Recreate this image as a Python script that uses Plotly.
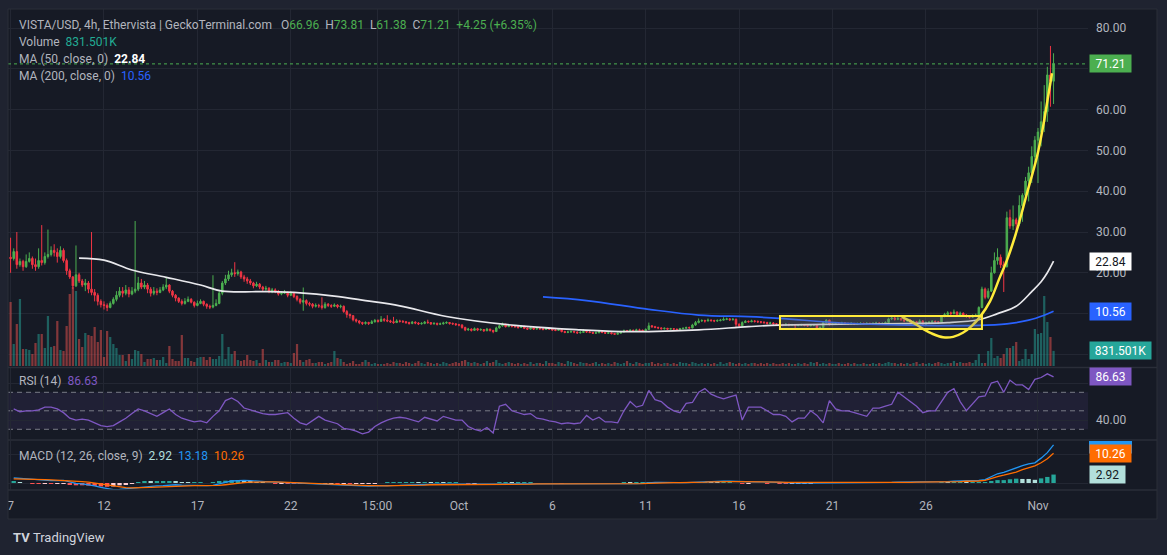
import pandas as pd
import plotly.graph_objects as go

# ---------------- data ----------------
start_time = "2024-09-07 00:00"
first_open = 23.8

close = [
 23.5, 25.2, 22.0, 22.8, 21.5, 22.8,  23.5, 22.0, 21.5, 23.0, 22.5, 24.0,
 24.5, 25.5, 25.0, 24.0, 25.5, 23.0,  20.5, 19.0, 16.8, 19.5, 18.0, 17.0,
 17.5, 16.0, 15.2, 14.5, 13.0, 12.2,  12.0, 11.5, 12.5, 13.5, 14.5, 15.5,
 15.0, 15.8, 14.8, 15.5, 16.0, 17.5,  16.5, 17.0, 16.0, 15.0, 15.5, 15.2,
 15.8, 16.5, 17.0, 15.5, 14.5, 13.8,  13.0, 12.5, 13.0, 13.5, 12.8, 12.0,
 12.5, 13.0, 12.3, 11.8, 11.6, 12.0,  12.5, 15.0, 17.5, 18.5, 19.5, 20.0,
 19.8, 20.2, 19.0, 18.5, 18.0, 17.5,  16.8, 17.2, 16.5, 16.0, 16.2, 15.5,
 15.8, 15.5, 14.8, 15.0, 15.2, 14.5,  15.0, 14.2, 13.5, 12.8, 13.2, 12.5,
 12.3, 11.8, 12.0, 11.9, 11.5, 12.3,  12.0, 11.8, 12.1, 11.7, 11.8, 10.5,
 9.8, 9.5, 8.5, 8.2, 7.8, 7.6,        7.8, 7.6, 8.0, 8.3, 8.1, 8.6,
 8.4, 8.2, 8.0, 7.8, 8.2, 8.1,        8.0, 7.8, 7.6, 7.9, 7.7, 7.5,
 7.6, 7.9, 7.8, 7.5, 7.6, 7.4,        7.5, 7.7, 7.8, 7.6, 7.5, 7.3,
 7.2, 6.6, 6.0, 6.2, 5.9, 6.3,        6.0, 6.1, 5.8, 6.2, 5.9, 5.6,
 6.5, 7.0, 7.4, 6.8, 7.1, 6.9,        6.8, 6.6, 6.9, 6.4, 6.2, 6.5,
 6.2, 6.4, 6.3, 6.1, 6.4, 6.2,        6.0, 5.9, 6.1, 5.6, 5.4, 5.5,
 5.6, 5.5, 5.3, 5.4, 5.6, 5.5,        5.4, 5.2, 5.3, 5.6, 5.4, 5.2,
 5.3, 5.1, 4.95, 5.2, 5.5, 5.8,       5.7, 5.9, 5.8, 6.0, 5.9, 5.8,
 6.1, 7.0, 6.8, 6.6, 6.5, 6.3,        6.4, 6.2, 6.3, 6.2, 6.1, 6.3,
 6.4, 6.6, 6.5, 7.2, 7.8, 8.2,        8.3, 8.2, 8.4, 8.3, 8.2, 8.3,
 8.4, 8.6, 8.7, 8.5, 8.6, 7.4,        7.0, 7.8, 8.1, 8.0, 8.2, 8.1,
 8.0, 7.9, 7.8, 7.6, 7.7, 7.5,        7.4, 7.3, 7.2, 7.4, 7.2, 7.3,
 7.1, 7.2, 7.3, 7.1, 7.0, 7.2,        7.2, 6.4, 6.6, 7.8, 8.4, 7.3,
 7.5, 7.6, 7.5, 7.7, 7.6, 7.5,        7.6, 7.4, 7.5, 7.6, 7.5, 7.6,
 7.5, 7.6, 7.7, 7.5, 7.6, 7.8,        8.7, 8.9, 8.6, 8.8, 8.5, 8.2,
 8.4, 7.9, 8.0, 7.6, 8.2, 7.4,        7.8, 7.9, 8.1, 8.0, 7.9, 9.3,
 9.8, 10.2, 10.0, 10.4, 9.7, 10.1,    9.6, 9.4, 9.1, 9.5, 9.6, 11.5,
 16.0, 14.0, 15.5, 20.0, 23.0, 23.8,  22.0, 21.5, 33.5, 31.5, 33.0, 32.0,
 36.5, 39.0, 42.5, 44.5, 48.5, 52.5,  54.5, 57.0, 59.5, 68.5, 66.96, 71.21,
]

high = [
 28.6, 26.0, 30.0, 23.5, 23.2, 24.5,  25.0, 24.0, 23.5, 26.0, 31.7, 25.0,
 30.6, 26.5, 27.0, 26.0, 26.5, 26.0,  23.5, 21.0, 19.2, 26.7, 20.0, 18.5,
 18.5, 18.0, 30.0, 16.0, 15.0, 13.5,  13.0, 12.5, 13.0, 14.0, 15.5, 16.5,
 16.5, 17.0, 16.5, 16.5, 32.7, 19.0,  18.5, 18.0, 17.5, 16.5, 16.5, 16.2,
 16.5, 17.2, 19.0, 17.2, 15.8, 14.8,  14.0, 13.5, 13.8, 14.2, 13.8, 13.0,
 13.2, 13.5, 13.2, 12.5, 12.2, 19.4,  13.5, 15.5, 18.0, 19.5, 20.5, 21.0,
 22.6, 20.8, 20.5, 19.5, 19.0, 18.5,  17.8, 17.8, 17.5, 16.8, 16.8, 16.5,
 16.3, 16.2, 15.8, 15.5, 15.8, 15.4,  15.5, 15.2, 14.5, 13.8, 16.4, 13.5,
 12.9, 12.6, 12.5, 12.4, 14.0, 12.8,  12.6, 12.3, 12.5, 12.3, 12.2, 12.0,
 10.9, 10.0, 9.6, 8.8, 8.4, 8.0,      8.1, 8.0, 8.4, 8.7, 8.6, 9.4,
 8.9, 9.6, 8.5, 9.2, 8.6, 8.5,        8.4, 8.2, 8.0, 8.2, 8.1, 7.9,
 7.9, 8.2, 8.5, 7.9, 7.9, 7.8,        7.8, 8.0, 8.1, 7.9, 7.8, 7.6,
 7.5, 7.4, 6.8, 6.5, 6.4, 6.6,        6.5, 6.4, 6.2, 6.5, 6.3, 6.0,
 6.8, 7.3, 7.8, 7.5, 7.4, 7.2,        7.1, 7.0, 7.2, 7.0, 6.6, 6.8,
 6.6, 6.7, 6.6, 6.4, 6.7, 6.5,        6.3, 6.2, 6.4, 6.2, 5.8, 5.8,
 5.9, 5.8, 5.6, 5.7, 6.2, 5.8,        5.7, 5.5, 5.6, 6.0, 5.8, 5.5,
 5.5, 5.4, 5.2, 5.4, 5.8, 6.1,        6.0, 6.2, 6.1, 6.3, 6.3, 6.1,
 6.4, 7.8, 7.2, 7.0, 6.8, 6.6,        6.6, 6.5, 6.5, 6.4, 6.3, 6.5,
 6.6, 6.8, 6.8, 7.5, 8.2, 8.8,        8.6, 8.5, 8.8, 8.6, 8.5, 8.6,
 8.7, 9.1, 9.0, 8.9, 8.9, 8.8,        7.6, 8.1, 8.4, 8.3, 8.5, 8.4,
 8.3, 8.2, 8.1, 8.0, 8.0, 7.9,        7.7, 7.6, 7.5, 7.6, 7.5, 7.5,
 7.4, 7.4, 7.5, 7.4, 7.3, 7.4,        7.4, 7.3, 6.9, 8.1, 8.6, 8.5,
 7.8, 7.9, 7.8, 8.0, 7.9, 7.8,        7.9, 7.7, 7.8, 7.9, 7.8, 7.9,
 7.8, 7.9, 8.0, 7.9, 7.9, 8.1,        9.0, 9.4, 9.2, 9.3, 9.0, 8.8,
 8.7, 8.6, 8.3, 8.2, 8.6, 8.4,        8.1, 8.2, 8.4, 8.3, 8.2, 9.6,
 10.2, 10.6, 10.5, 11.0, 10.5, 10.5,  10.3, 9.9, 9.6, 9.8, 10.0, 11.8,
 16.6, 16.4, 16.2, 21.5, 25.0, 26.0,  24.5, 22.8, 35.0, 35.5, 36.5, 33.5,
 39.0, 39.5, 43.5, 46.0, 51.0, 53.5,  55.5, 62.0, 66.0, 70.5, 75.6, 73.81,
]

low = [
 20.0, 23.0, 21.0, 21.5, 20.5, 21.2,  22.5, 21.0, 20.5, 21.0, 21.8, 22.0,
 23.5, 24.0, 24.0, 22.5, 23.5, 22.5,  19.5, 18.5, 16.0, 16.5, 17.5, 16.5,
 15.5, 15.0, 14.5, 13.0, 12.0, 11.5,  11.0, 10.6, 11.3, 12.2, 13.0, 14.0,
 14.0, 14.5, 14.0, 14.5, 15.0, 15.5,  16.0, 16.0, 15.0, 14.2, 14.5, 14.5,
 15.0, 15.5, 16.0, 15.0, 14.0, 13.0,  12.6, 12.0, 12.2, 12.8, 12.5, 11.5,
 11.8, 12.3, 11.8, 11.2, 11.1, 11.3,  11.8, 12.3, 14.5, 17.0, 18.0, 19.0,
 19.0, 19.3, 18.5, 17.8, 17.3, 17.0,  16.2, 16.5, 16.0, 15.3, 15.6, 15.0,
 15.0, 15.0, 14.4, 14.5, 14.8, 14.0,  14.3, 13.8, 13.0, 12.3, 10.7, 12.0,
 11.8, 11.3, 11.5, 11.4, 11.0, 11.2,  11.6, 11.4, 11.6, 11.3, 11.3, 10.2,
 9.0, 8.8, 8.1, 7.8, 7.4, 7.2,        7.3, 7.2, 7.5, 7.8, 7.8, 8.0,
 8.0, 7.9, 7.7, 7.5, 7.7, 7.8,        7.7, 7.5, 7.3, 7.4, 7.4, 7.2,
 7.3, 7.4, 7.5, 7.2, 7.3, 7.1,        7.2, 7.3, 7.5, 7.3, 7.2, 7.0,
 6.9, 6.3, 5.7, 5.8, 5.6, 5.8,        5.7, 5.8, 5.5, 5.7, 5.6, 5.2,
 5.5, 6.3, 6.8, 6.6, 6.7, 6.6,        6.5, 6.3, 6.5, 6.2, 6.0, 6.1,
 6.0, 6.1, 6.0, 5.9, 6.0, 6.0,        5.8, 5.7, 5.8, 5.4, 5.2, 5.2,
 5.3, 5.2, 5.0, 5.1, 5.3, 5.3,        5.2, 5.0, 5.1, 5.2, 5.2, 5.0,
 5.0, 4.9, 4.8, 4.9, 5.1, 5.4,        5.5, 5.6, 5.6, 5.8, 5.7, 5.6,
 5.6, 6.0, 6.5, 6.4, 6.2, 6.1,        6.1, 6.0, 6.1, 6.0, 5.9, 6.0,
 6.2, 6.3, 6.3, 6.4, 7.0, 7.6,        8.0, 7.8, 8.1, 8.0, 7.9, 8.0,
 8.1, 8.3, 8.4, 8.2, 8.3, 6.7,        6.6, 6.9, 7.7, 7.8, 7.9, 7.8,
 7.7, 7.6, 7.5, 7.3, 7.4, 7.2,        7.1, 7.0, 6.9, 7.0, 6.9, 7.0,
 6.4, 6.9, 7.0, 6.9, 6.8, 6.9,        6.9, 6.2, 6.2, 6.5, 7.6, 7.1,
 7.2, 7.3, 7.3, 7.4, 7.3, 7.3,        7.3, 7.2, 7.2, 7.3, 7.3, 7.3,
 7.2, 7.3, 7.4, 7.2, 7.3, 7.5,        7.7, 8.4, 8.3, 8.4, 8.2, 7.9,
 8.0, 7.6, 7.7, 7.3, 7.5, 7.0,        7.3, 7.6, 7.8, 7.7, 7.6, 7.8,
 9.1, 9.6, 9.6, 9.8, 9.4, 9.5,        9.3, 9.0, 8.8, 9.0, 9.3, 9.4,
 11.3, 13.5, 13.6, 15.3, 19.8, 22.0,  21.2, 15.3, 21.3, 30.8, 30.5, 29.5,
 31.5, 32.5, 38.0, 37.5, 42.0, 47.0,  42.0, 51.0, 54.5, 57.0, 60.7, 61.38,
]

volume_k = [
 3520, 1210, 2310, 3685, 935, 935, 880, 660, 1265, 1760,
 1760, 990, 2750, 1045, 1100, 2475, 880, 825, 2200, 3960,
 4345, 4125, 1485, 1045, 1815, 1705, 1650, 2145, 1320, 1980,
 495, 1925, 1595, 1210, 990, 605, 605, 275, 660, 385,
 880, 825, 660, 220, 385, 385, 440, 330, 330, 495,
 165, 1100, 385, 275, 275, 1705, 440, 440, 275, 220,
 440, 495, 495, 330, 495, 385, 385, 550, 1760, 385,
 1045, 660, 825, 330, 275, 330, 605, 330, 275, 330,
 165, 935, 330, 220, 220, 330, 330, 165, 220, 220,
 165, 715, 1210, 330, 220, 330, 385, 165, 165, 220,
 220, 110, 165, 220, 825, 440, 385, 220, 110, 165,
 275, 110, 110, 220, 330, 220, 110, 165, 110, 110,
 110, 165, 110, 220, 165,
 165, 110, 220, 165, 110, 165, 275, 165, 110, 220,
 165, 110, 165, 110, 220, 165, 110, 165, 220, 165,
 275, 330, 220, 165, 220, 165, 110, 165, 275, 165,
 220, 330, 165, 110, 165, 220, 165, 110, 165, 110,
 165, 110, 220, 110, 165, 165, 110, 275, 165, 165,
 110, 220, 165, 110, 275, 220, 165, 110, 220, 165,
 165, 110, 165, 220, 110, 165, 110, 165, 110, 220,
 165, 110, 165, 275, 165, 110, 220, 165, 110, 165,
 165, 220, 110, 165, 110, 165, 165, 110, 165, 110,
 220, 165, 165, 110, 220, 165, 110, 165, 110, 165,
 110, 165, 110, 220, 110, 165, 220, 165, 110, 165,
 110, 165, 110, 165, 165, 110, 165, 110, 165, 110,
 165, 110, 110, 165, 110, 165, 110, 110, 165, 110,
 165, 110, 220, 165, 220, 110, 165, 110, 165, 110,
 110, 165, 110, 110, 165, 110, 165, 110, 110, 165,
 110, 110, 165, 110, 165, 110, 165, 220, 165, 165,
 110, 165, 110, 165, 110, 165, 220, 110, 165, 110,
 165, 110, 165, 220, 165, 110, 165, 165, 275, 165,
 220, 165, 165, 220, 165, 330,
 660, 165, 165, 825, 1540, 440, 550, 440, 660, 990,
 990, 1100, 1320, 275, 385, 935, 385, 660, 2035, 1760,
 1815, 3850, 2420, 1595, 831.501,
]

# RSI(14) and MACD(12,26,9), one reading every second 4h bar
rsi = [
 52, 49, 50, 50, 51, 54, 54, 52, 48, 42, 40, 41, 40, 37, 34, 33, 34, 38,
 42, 47, 52, 50, 47, 44, 48, 52, 46, 42, 40, 38, 39, 37, 44, 50, 61, 64,
 60, 53, 51, 49, 47, 46, 46, 47, 48, 42, 37, 35, 40, 44, 40, 38, 36, 31,
 30, 28, 25, 27, 33, 37, 40, 42, 43, 42, 40, 38, 43, 41, 39, 44, 42, 40,
 40, 33, 30, 28, 32, 26, 55, 57, 50, 48, 46, 47, 42, 41, 39, 38, 36, 37,
 36, 37, 45, 40, 43, 38, 38, 37, 50, 60, 54, 56, 72, 62, 60, 54, 50, 48,
 58, 59, 70, 74, 68, 65, 63, 65, 67, 40, 54, 54, 54, 50, 46, 46, 44, 38,
 42, 42, 50, 45, 37, 61, 52, 50, 50, 48, 46, 44, 53, 53, 55, 57, 70, 65,
 60, 55, 48, 50, 50, 60, 70, 74, 60, 50, 57, 65, 66, 80, 82, 70, 83, 78,
 78, 73, 84, 86, 90, 86.63,
]
macd = [
 1.8, 1.6, 1.4, 1.2, 1.0, 0.9, 0.8, 0.8, 0.9, 0.4, -0.1, -0.3,
 -0.6, -1.0, -1.5, -2.0, -2.3, -2.2, -2.0, -1.8, -1.5, -1.2, -1.1, -1.0,
 -0.9, -0.7, -0.6, -0.7, -0.8, -0.8, -0.8, -0.9, -0.8, -0.4, 0.2, 0.7,
 0.9, 0.9, 0.8, 0.6, 0.5, 0.4, 0.3, 0.2, 0.1, 0.0, -0.2, -0.3,
 -0.4, -0.5, -0.5, -0.5, -0.6, -0.7, -0.9, -1.0, -1.1, -1.1, -1.0, -1.0,
 -0.9, -0.8, -0.8, -0.7, -0.6, -0.6, -0.5, -0.5, -0.4, -0.4, -0.4, -0.4,
 -0.5, -0.6, -0.6, -0.6, -0.6, -0.6, -0.4, -0.3, -0.3, -0.3, -0.3, -0.3,
 -0.3, -0.3, -0.3, -0.3, -0.4, -0.4, -0.4, -0.4, -0.4, -0.4, -0.4, -0.4,
 -0.4, -0.4, -0.3, -0.2, -0.2, -0.1, 0.1, 0.2, 0.2, 0.1, 0.1, 0.1,
 0.1, 0.2, 0.4, 0.5, 0.6, 0.6, 0.6, 0.6, 0.5, 0.4, 0.4, 0.4,
 0.4, 0.3, 0.3, 0.2, 0.1, 0.1, 0.0, 0.0, 0.0, 0.0, 0.0, 0.1,
 0.1, 0.1, 0.1, 0.1, 0.1, 0.1, 0.1, 0.1, 0.1, 0.2, 0.3, 0.3,
 0.3, 0.3, 0.3, 0.3, 0.3, 0.4, 0.5, 0.6, 0.7, 0.7, 0.7, 0.9,
 1.2, 2.3, 3.2, 3.7, 4.5, 5.3, 6.0, 6.6, 7.0, 8.6, 10.5, 13.18,
]
signal = [
 1.4, 1.4, 1.4, 1.3, 1.3, 1.2, 1.1, 1.0, 1.0, 0.9, 0.7, 0.5,
 0.3, 0.0, -0.3, -0.7, -1.1, -1.4, -1.6, -1.7, -1.7, -1.6, -1.5, -1.4,
 -1.3, -1.1, -1.0, -0.9, -0.9, -0.9, -0.9, -0.9, -0.9, -0.8, -0.6, -0.3,
 -0.1, 0.1, 0.3, 0.4, 0.4, 0.4, 0.4, 0.3, 0.3, 0.2, 0.1, 0.0,
 -0.1, -0.2, -0.3, -0.4, -0.4, -0.5, -0.6, -0.7, -0.8, -0.9, -0.9, -1.0,
 -1.0, -0.9, -0.9, -0.8, -0.8, -0.7, -0.7, -0.6, -0.6, -0.5, -0.5, -0.5,
 -0.5, -0.5, -0.5, -0.6, -0.6, -0.6, -0.5, -0.5, -0.4, -0.4, -0.4, -0.4,
 -0.3, -0.3, -0.3, -0.3, -0.3, -0.4, -0.4, -0.4, -0.4, -0.4, -0.4, -0.4,
 -0.4, -0.4, -0.4, -0.3, -0.3, -0.2, -0.1, 0.0, 0.1, 0.1, 0.1, 0.1,
 0.1, 0.1, 0.2, 0.3, 0.4, 0.5, 0.5, 0.5, 0.5, 0.5, 0.5, 0.4,
 0.4, 0.4, 0.3, 0.3, 0.2, 0.2, 0.1, 0.1, 0.1, 0.0, 0.0, 0.0,
 0.1, 0.1, 0.1, 0.1, 0.1, 0.1, 0.1, 0.1, 0.1, 0.1, 0.2, 0.2,
 0.2, 0.3, 0.3, 0.3, 0.3, 0.3, 0.4, 0.4, 0.5, 0.6, 0.6, 0.7,
 0.9, 1.6, 2.2, 2.7, 3.2, 3.8, 4.6, 5.2, 5.9, 7.0, 8.4, 10.26,
]

ma50_t = ["2024-09-10 16:00", "2024-09-12 00:00", "2024-09-13 12:00", "2024-09-15 08:00",
          "2024-09-17 04:00", "2024-09-18 08:00", "2024-09-20 20:00", "2024-09-22 12:00",
          "2024-09-24 08:00", "2024-09-26 00:00", "2024-09-27 20:00", "2024-09-30 08:00",
          "2024-10-04 00:00", "2024-10-07 12:00", "2024-10-09 16:00", "2024-10-11 04:00",
          "2024-10-13 20:00", "2024-10-16 12:00", "2024-10-18 04:00", "2024-10-22 00:00",
          "2024-10-27 04:00", "2024-10-28 20:00", "2024-10-29 20:00", "2024-10-30 20:00",
          "2024-10-31 16:00", "2024-11-01 04:00", "2024-11-01 12:00", "2024-11-01 20:00"]
ma50 = [23.6, 23.1, 20.7, 18.9, 17.0, 15.5, 15.4, 15.1, 14.3, 13.2, 11.9, 9.3,
        7.1, 6.0, 5.6, 5.6, 6.0, 6.8, 7.2, 7.45, 7.8, 8.5, 10.0, 11.8,
        15.4, 17.8, 20.0, 22.84]
ma200_t = ["2024-10-05 12:00", "2024-10-07 20:00", "2024-10-11 04:00", "2024-10-13 20:00",
           "2024-10-16 12:00", "2024-10-18 04:00", "2024-10-21 12:00", "2024-10-25 00:00",
           "2024-10-28 20:00", "2024-10-30 08:00", "2024-10-31 12:00", "2024-11-01 08:00",
           "2024-11-01 20:00"]
ma200 = [14.1, 13.2, 11.05, 9.65, 9.25, 8.85, 7.7, 7.2, 7.1, 7.5, 8.4, 9.6, 10.56]

# hand-drawn marks on the chart (rectangle + yellow arc)
box_t = ["2024-10-18 04:30", "2024-10-29 00:00"]
box_p = [6.2, 9.4]
arc_t = ["2024-10-24 17:00", "2024-10-25 07:30", "2024-10-25 20:00", "2024-10-26 09:00",
         "2024-10-26 22:00", "2024-10-27 11:00", "2024-10-27 23:30", "2024-10-28 11:00",
         "2024-10-28 21:30", "2024-10-29 10:20", "2024-10-29 23:10", "2024-10-30 08:10",
         "2024-10-30 21:00", "2024-10-31 09:50", "2024-10-31 22:45", "2024-11-01 06:30",
         "2024-11-01 13:00", "2024-11-01 18:00"]
arc_p = [9.2, 7.8, 6.3, 5.0, 4.2, 4.3, 5.3, 7.0, 9.2, 13.0, 19.0, 23.1, 30.5, 39.5,
         48.5, 55.8, 63.2, 68.9]

tick_t = ["2024-09-07", "2024-09-12", "2024-09-17", "2024-09-22", "2024-09-26 15:00",
          "2024-10-01", "2024-10-06", "2024-10-11", "2024-10-16", "2024-10-21",
          "2024-10-26", "2024-11-01"]
tick_txt = ["7", "12", "17", "22", "15:00", "Oct", "6", "11", "16", "21", "26", "Nov"]
price_ticks = [0, 10, 20, 30, 40, 50, 60, 70, 80]
price_tick_txt = ["", "", "20.00", "30.00", "40.00", "50.00", "60.00", "", "80.00"]  # others hidden by badges
rsi_ticks = [40, 80]
rsi_tick_txt = ["40.00", ""]

# ---------------- derived series ----------------
t = pd.date_range(start_time, periods=len(close), freq="4h")
opn = [first_open] + close[:-1]
t2 = t[1::2][:len(rsi)]
hist = [m - s for m, s in zip(macd, signal)]

UP, DN = "#4caf50", "#f23645"
vol_col = ["rgba(38,166,154,0.5)" if c >= o else "rgba(239,83,80,0.5)" for o, c in zip(opn, close)]
hist_col = []
for k, h in enumerate(hist):
    prev = hist[k - 1] if k else h
    if h >= 0:
        hist_col.append("#26a69a" if h >= prev else "#b2dfdb")
    else:
        hist_col.append("#ffcdd2" if h >= prev else "#ff5252")

# ---------------- geometry ----------------
W, H = 1167, 555
L, R, T, B = 8, 1088, 9, 490
def px(x):
    return (x - L) / (R - L)
def py(y):
    return (B - y) / (B - T)

FONT = "Roboto, Arial, sans-serif"
GREY = "#b2b5be"
BG_IN = "#161a25"
BG_OUT = "#1f2330"
GRID = "#232733"
SEP = "#2a2e39"

fig = go.Figure()
fig.add_trace(go.Bar(x=t, y=volume_k, marker=dict(color=vol_col, line=dict(width=0)),
                     width=0.72 * 4 * 3600 * 1000, xaxis="x", yaxis="y", hoverinfo="skip"))
fig.add_trace(go.Candlestick(
    x=t, open=opn, high=high, low=low, close=close, xaxis="x", yaxis="y2",
    increasing=dict(line=dict(color=UP, width=1), fillcolor=UP),
    decreasing=dict(line=dict(color=DN, width=1), fillcolor=DN),
    whiskerwidth=0, hoverinfo="skip"))
fig.add_trace(go.Scatter(x=ma50_t, y=ma50, mode="lines", xaxis="x", yaxis="y2",
                         line=dict(color="#e8e8ec", width=1.7, shape="spline"), hoverinfo="skip"))
fig.add_trace(go.Scatter(x=ma200_t, y=ma200, mode="lines", xaxis="x", yaxis="y2",
                         line=dict(color="#2962ff", width=1.7, shape="spline"), hoverinfo="skip"))
fig.add_trace(go.Scatter(x=arc_t, y=arc_p, mode="lines", xaxis="x", yaxis="y2",
                         line=dict(color="#ffeb3b", width=2.5, shape="spline"), hoverinfo="skip"))
# RSI
fig.add_trace(go.Scatter(x=t2, y=rsi, mode="lines", xaxis="x", yaxis="y3",
                         line=dict(color="#7e57c2", width=1.3), hoverinfo="skip"))
# MACD
fig.add_trace(go.Bar(x=t2, y=hist, marker=dict(color=hist_col, line=dict(width=0)),
                     width=0.7 * 8 * 3600 * 1000, xaxis="x", yaxis="y4", hoverinfo="skip"))
fig.add_trace(go.Scatter(x=t2, y=macd, mode="lines", xaxis="x", yaxis="y4",
                         line=dict(color="#2196f3", width=1.3), hoverinfo="skip"))
fig.add_trace(go.Scatter(x=t2, y=signal, mode="lines", xaxis="x", yaxis="y4",
                         line=dict(color="#ff6d00", width=1.3), hoverinfo="skip"))

tickfont = dict(family=FONT, size=12, color=GREY)
main_dom = [py(366), 1.0]
fig.update_layout(
    width=W, height=H, margin=dict(l=L, r=W - R, t=T, b=H - B),
    paper_bgcolor=BG_IN, plot_bgcolor=BG_IN, showlegend=False,
    font=dict(family=FONT, color=GREY, size=12),
    barmode="overlay",
    xaxis=dict(type="date", range=["2024-09-06 20:40", "2024-11-03 16:15"], anchor="y4",
               tickvals=tick_t, ticktext=tick_txt, tickfont=tickfont, ticks="",
               ticklabelstandoff=7, showgrid=True, gridcolor=GRID, gridwidth=1,
               zeroline=False, showline=False, rangeslider=dict(visible=False)),
    yaxis=dict(domain=main_dom, range=[0, 357 * 55], visible=False, showgrid=False,
               fixedrange=True),
    yaxis2=dict(domain=main_dom, overlaying="y", side="right", anchor="x",
                range=[-2.84, 84.66], tickvals=price_ticks,
                ticktext=price_tick_txt, tickfont=tickfont, ticks="",
                ticklabelstandoff=7, showgrid=True, gridcolor=GRID, zeroline=False),
    yaxis3=dict(domain=[py(439), py(368)], range=[19.5, 96.3], side="right", anchor="x",
                tickvals=rsi_ticks, ticktext=rsi_tick_txt,
                tickfont=tickfont, ticks="", ticklabelstandoff=7,
                showgrid=True, gridcolor=GRID, zeroline=False),
    yaxis4=dict(domain=[0, py(441)], range=[-2.42, 14.53], side="right", anchor="x",
                tickvals=[0, 10], showticklabels=False, ticks="",
                showgrid=True, gridcolor=GRID, zeroline=False),
)

shapes = []
# RSI band and guide lines
shapes.append(dict(type="rect", xref="paper", x0=0, x1=1, yref="y3", y0=30, y1=70,
                   fillcolor="rgba(126,87,194,0.10)", line=dict(width=0), layer="below"))
for lvl in (70, 50, 30):
    shapes.append(dict(type="line", xref="paper", x0=0, x1=1, yref="y3", y0=lvl, y1=lvl,
                       line=dict(color="#787b86", width=1, dash="5px,4px"), layer="below"))
# last price dotted line
shapes.append(dict(type="line", xref="paper", x0=0, x1=1, yref="y2", y0=close[-1], y1=close[-1],
                   line=dict(color=UP, width=1, dash="dot")))
# drawn rectangle
shapes.append(dict(type="rect", xref="x", yref="y2", x0=box_t[0], x1=box_t[1],
                   y0=box_p[0], y1=box_p[1], fillcolor="rgba(120,123,134,0.30)",
                   line=dict(color="#ffeb3b", width=2), layer="above"))
# pane separators
for ysep in (367.5, 440, 490):
    shapes.append(dict(type="line", xref="paper", yref="paper", x0=px(8), x1=px(1157),
                       y0=py(ysep), y1=py(ysep), line=dict(color=SEP, width=1.5)))
# partially hidden MACD line badge (13.18)
shapes.append(dict(type="rect", xref="paper", yref="y4", x0=px(1089), x1=px(1132),
                   y0=macd[-1] - 3.0, y1=14.53, fillcolor="#2196f3", line=dict(width=0)))
# outer frame
for x0, x1, y0, y1 in ((0, 8, 0, 555), (1157, 1167, 0, 555), (0, 1167, 0, 9), (0, 1167, 519, 555)):
    shapes.append(dict(type="rect", xref="paper", yref="paper", x0=px(x0), x1=px(x1),
                       y0=py(y1), y1=py(y0), fillcolor=BG_OUT, line=dict(width=0), layer="above"))
shapes.append(dict(type="rect", xref="paper", yref="paper", x0=px(8), x1=px(1157),
                   y0=py(519), y1=py(9), line=dict(color=SEP, width=1), fillcolor="rgba(0,0,0,0)"))
fig.update_layout(shapes=shapes)

ann = []
def sp(c, s):
    return f"<span style='color:{c}'>{s}</span>"
nb = "&nbsp;&nbsp;"
chg = close[-1] - close[-2]
pct = chg / close[-2] * 100
line1 = ("VISTA/USD, 4h, Ethervista | GeckoTerminal.com" + nb + "&nbsp;"
         + "O" + sp(UP, f"{opn[-1]:.2f}") + nb + "H" + sp(UP, f"{high[-1]:.2f}") + nb
         + "L" + sp(UP, f"{low[-1]:.2f}") + nb + "C" + sp(UP, f"{close[-1]:.2f}") + nb
         + sp(UP, f"+{chg:.2f} (+{pct:.2f}%)"))
legend_lines = [
    (25, line1),
    (42, "Volume" + nb + sp("#22ab94", f"{volume_k[-1]:.3f}K")),
    (59, "MA (50, close, 0)" + nb + f"<b><span style='color:#ffffff'>{ma50[-1]:.2f}</span></b>"),
    (76, "MA (200, close, 0)" + nb + sp("#2962ff", f"{ma200[-1]:.2f}")),
    (381, "RSI (14)" + nb + sp("#7e57c2", f"{rsi[-1]:.2f}")),
    (456, "MACD (12, 26, close, 9)" + nb + sp("#b2dfdb", f"{hist[-1]:.2f}") + nb
     + sp("#2196f3", f"{macd[-1]:.2f}") + nb + sp("#ff6d00", f"{signal[-1]:.2f}")),
]
for yy, txt in legend_lines:
    ann.append(dict(x=px(17), y=py(yy), xref="paper", yref="paper", xanchor="left",
                    yanchor="middle", text=txt, showarrow=False,
                    font=dict(family=FONT, size=12, color=GREY)))

def badge(txt, y, yref, bg, fg, w=37):
    ann.append(dict(x=1, xref="paper", xanchor="left", xshift=1, y=y, yref=yref,
                    yanchor="middle", text=txt, showarrow=False, bgcolor=bg,
                    font=dict(family=FONT, size=12, color=fg), borderpad=2,
                    width=w, height=13, align="center"))
badge(f"{close[-1]:.2f}", close[-1], "y2", UP, "#ffffff")
badge(f"{ma50[-1]:.2f}", ma50[-1], "y2", "#ffffff", "#131722")
badge(f"{ma200[-1]:.2f}", ma200[-1], "y2", "#2962ff", "#ffffff")
badge(f"{volume_k[-1]:.3f}K", volume_k[-1], "y", "#26a69a", "#ffffff", w=57)
badge(f"{rsi[-1]:.2f}", rsi[-1], "y3", "#7e57c2", "#ffffff")
badge(f"{signal[-1]:.2f}", signal[-1], "y4", "#ff6d00", "#ffffff")
badge(f"{hist[-1]:.2f}", hist[-1], "y4", "#b2dfdb", "#131722", w=31)

# TradingView footer
ann.append(dict(x=px(11), y=py(537), xref="paper", yref="paper", xanchor="left",
                yanchor="middle", showarrow=False,
                text="<b>TV</b>&nbsp;TradingView",
                font=dict(family=FONT, size=13, color="#d1d4dc")))
fig.update_layout(annotations=ann)

fig.write_html("out.html", config={"displayModeBar": False},
               post_script="document.body.style.margin='0px';"
                           "document.body.style.overflow='hidden';"
                           "document.body.style.background='%s';" % BG_OUT)
